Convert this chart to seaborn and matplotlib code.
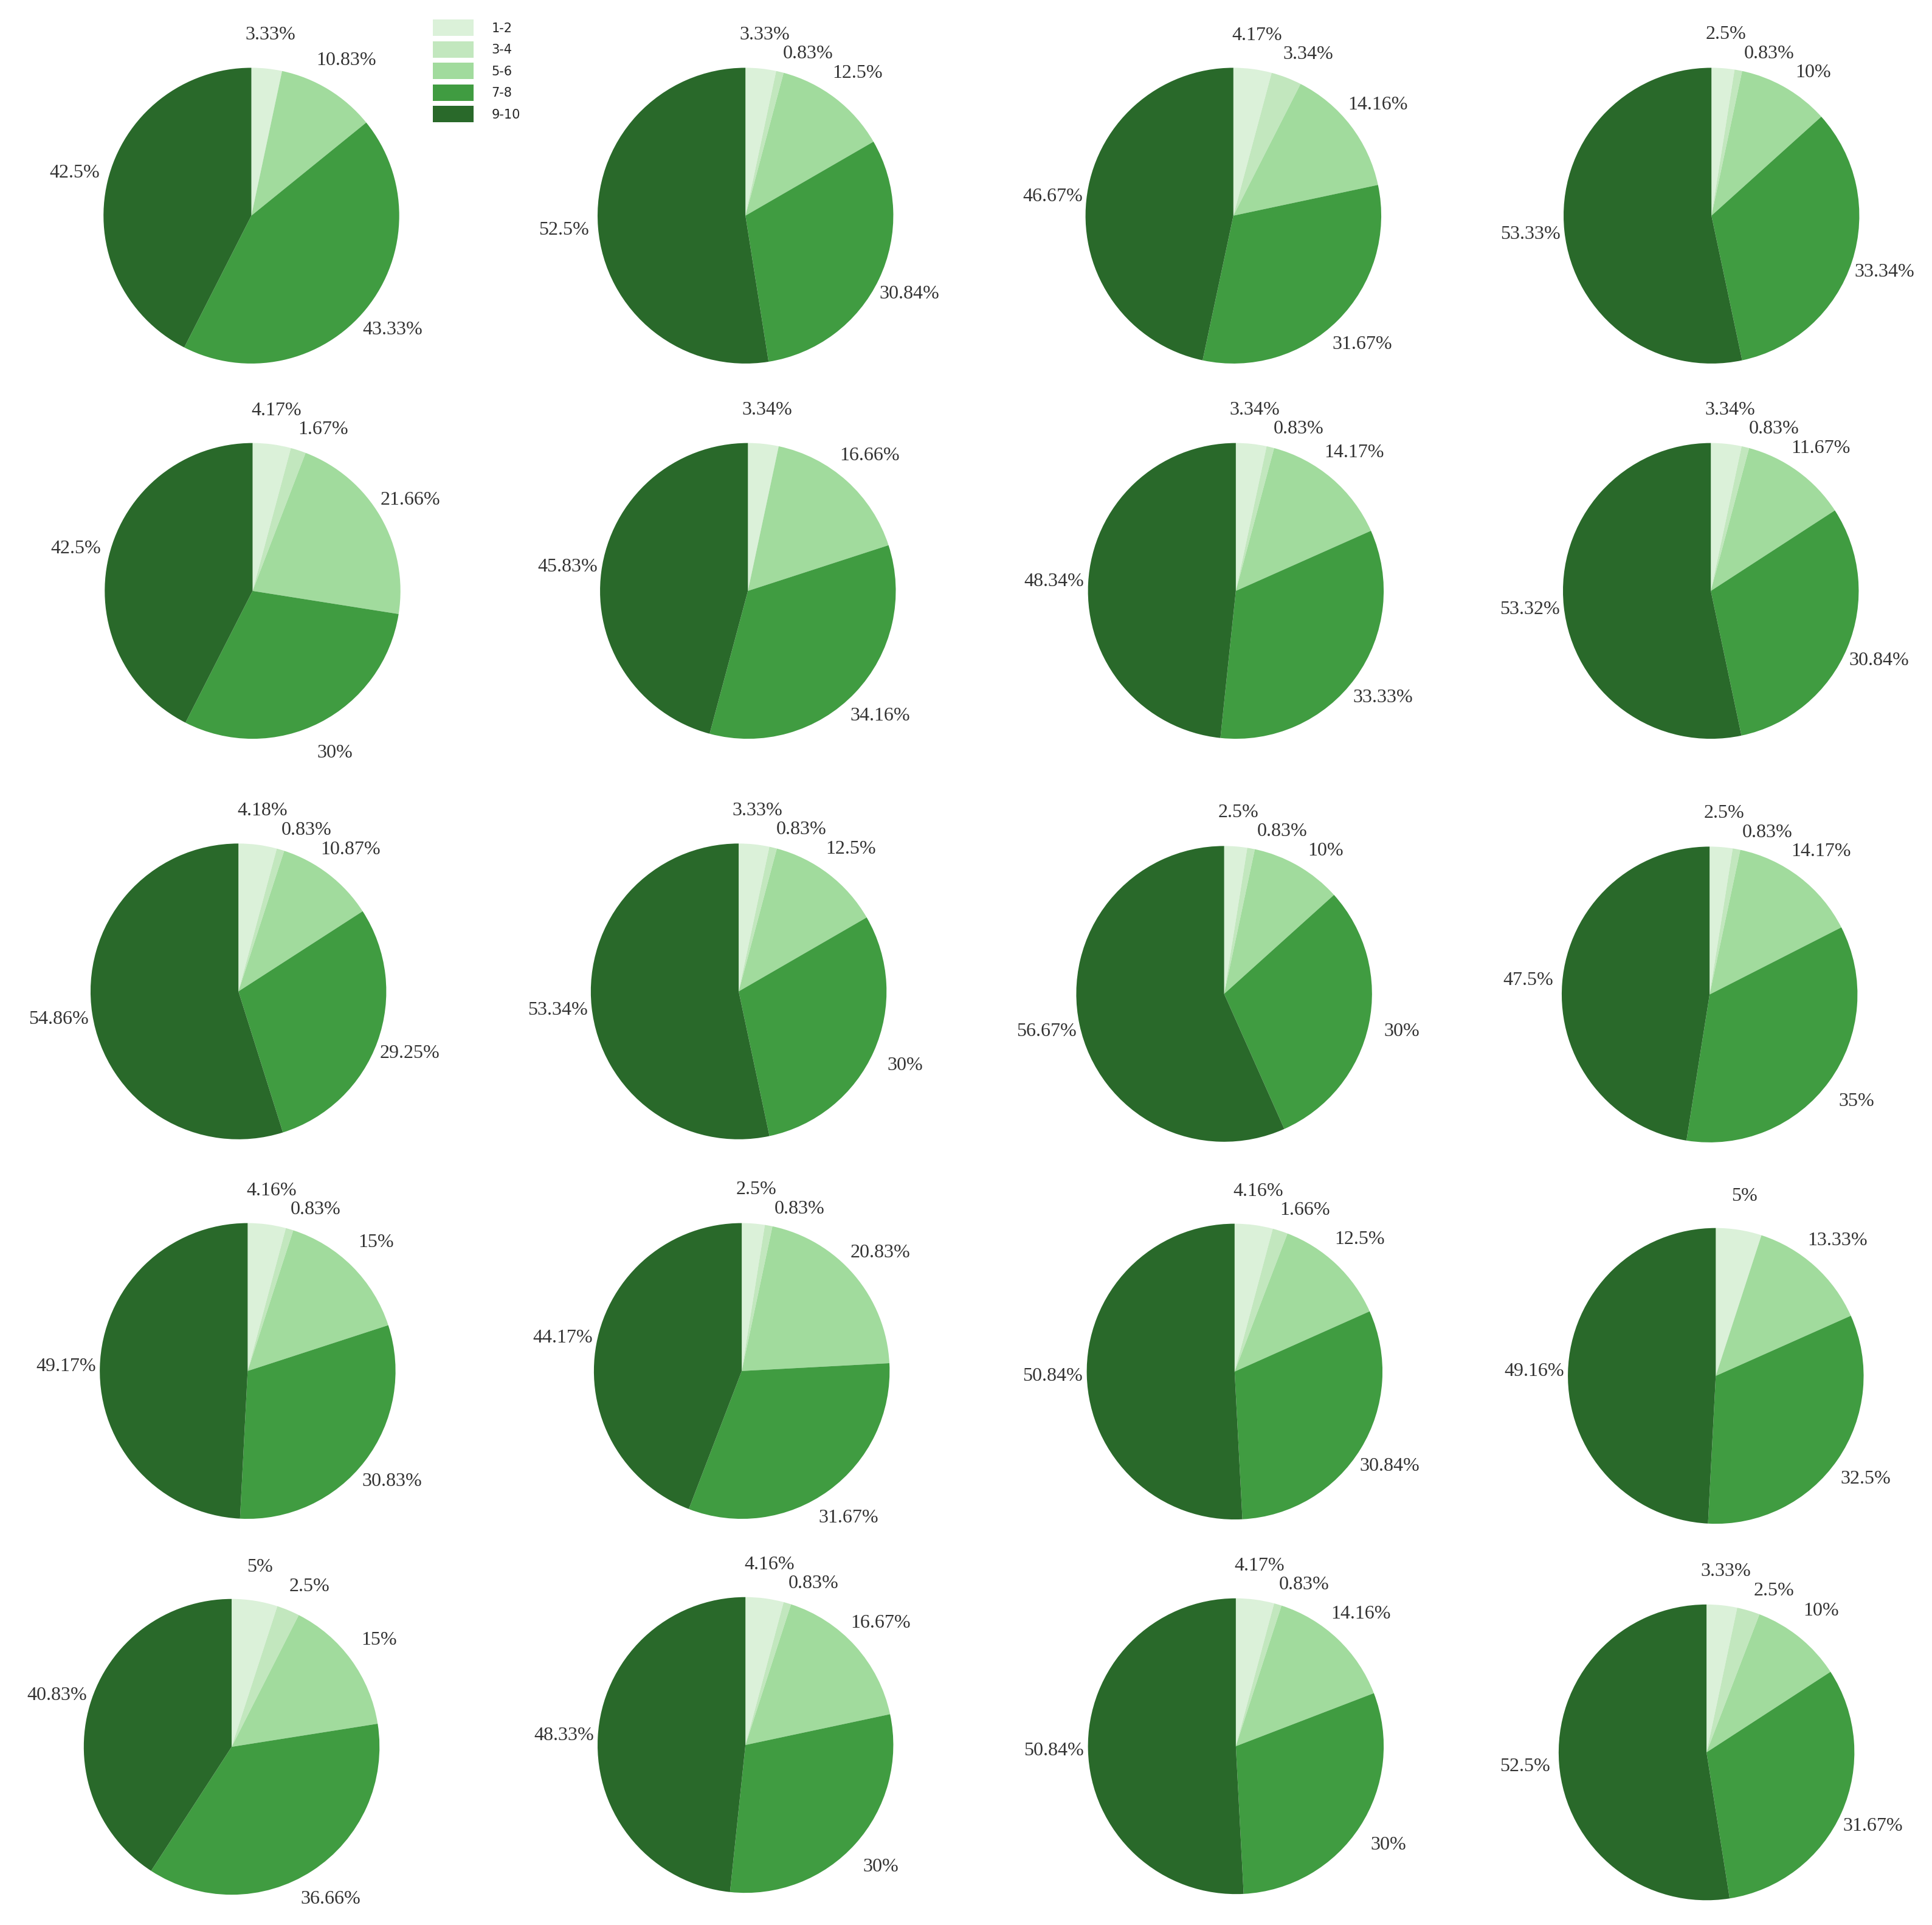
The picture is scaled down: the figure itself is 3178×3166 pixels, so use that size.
import numpy as np
import matplotlib
matplotlib.use("Agg")
import matplotlib.pyplot as plt
import seaborn as sns

# score bands
categories = ['1-2', '3-4', '5-6', '7-8', '9-10']

# one list per pie (percent of answers in each band), row by row
pie_01 = [3.33, 0, 10.83, 43.33, 42.5]
pie_02 = [3.33, 0.83, 12.5, 30.84, 52.5]
pie_03 = [4.17, 3.34, 14.16, 31.67, 46.67]
pie_04 = [2.5, 0.83, 10, 33.34, 53.33]
pie_05 = [4.17, 1.67, 21.66, 30, 42.5]
pie_06 = [3.34, 0, 16.66, 34.16, 45.83]
pie_07 = [3.34, 0.83, 14.17, 33.33, 48.34]
pie_08 = [3.34, 0.83, 11.67, 30.84, 53.32]
pie_09 = [4.18, 0.83, 10.87, 29.25, 54.86]
pie_10 = [3.33, 0.83, 12.5, 30, 53.34]
pie_11 = [2.5, 0.83, 10, 30, 56.67]
pie_12 = [2.5, 0.83, 14.17, 35, 47.5]
pie_13 = [4.16, 0.83, 15, 30.83, 49.17]
pie_14 = [2.5, 0.83, 20.83, 31.67, 44.17]
pie_15 = [4.16, 1.66, 12.5, 30.84, 50.84]
pie_16 = [5, 0, 13.33, 32.5, 49.16]
pie_17 = [5, 2.5, 15, 36.66, 40.83]
pie_18 = [4.16, 0.83, 16.67, 30, 48.33]
pie_19 = [4.17, 0.83, 14.16, 30, 50.84]
pie_20 = [3.33, 2.5, 10, 31.67, 52.5]

all_pies = [pie_01, pie_02, pie_03, pie_04, pie_05, pie_06, pie_07, pie_08,
            pie_09, pie_10, pie_11, pie_12, pie_13, pie_14, pie_15, pie_16,
            pie_17, pie_18, pie_19, pie_20]

# pie centres in pixels of the 3178x3166 canvas (measured on a 1568 wide copy)
centres_small = [(204, 175), (605, 175), (1001, 175), (1389, 175),
                 (205, 479.5), (607, 479.5), (1003, 479.5), (1388.5, 479.5),
                 (193.5, 804.5), (599.5, 804.5), (993.5, 806.5), (1387.5, 807),
                 (201, 1112.5), (602, 1112.5), (1002, 1113), (1392.5, 1116.5),
                 (188, 1417.5), (605, 1416), (1003, 1417), (1385, 1422)]

W, H = 3178, 3166
SCALE = W / 1568
R_PX = 120 * SCALE
LABEL_DIST = 1.23
GAP = 0.13

sns.set_theme(style="white")
plt.rcParams['font.family'] = ['Liberation Serif', 'DejaVu Serif']
colors = sns.color_palette(['#dbf1d9', '#c2e7be', '#a1db9d', '#409c41', '#29692a'])

fig = plt.figure(figsize=(W / 100, H / 100), dpi=100)
fig.patch.set_facecolor('white')


def spread_labels(texts):
    # push crowded labels on the upper right downwards, like the original layout
    items = [t for t in texts if t.get_text() and t.get_position()[0] > 0
             and t.get_position()[1] > 0]
    items.sort(key=lambda t: -t.get_position()[1])
    prev_y = None
    for t in items:
        x, y = t.get_position()
        if prev_y is not None and prev_y - y < GAP:
            y_new = prev_y - GAP
            x_circ = np.sqrt(max(LABEL_DIST ** 2 - y_new ** 2, 0))
            t.set_position(((x + x_circ) / 2, y_new))
            y = y_new
        prev_y = y


wedges = None
for vals, (cx, cy) in zip(all_pies, centres_small):
    cxp, cyp = cx * SCALE, cy * SCALE
    ax = fig.add_axes([(cxp - R_PX) / W, 1 - (cyp + R_PX) / H,
                       2 * R_PX / W, 2 * R_PX / H])
    labels = [f"{v:g}%" if v > 0 else '' for v in vals]
    wedges, texts = ax.pie(vals, labels=labels, colors=colors, startangle=90,
                           counterclock=False, labeldistance=LABEL_DIST,
                           wedgeprops=dict(linewidth=0),
                           textprops=dict(color='#333333', fontsize=23,
                                          ha='center', va='center'))
    spread_labels(texts)
    ax.set_xlim(-1, 1)
    ax.set_ylim(-1, 1)
    ax.set_aspect('equal')
    ax.axis('off')

fig.legend(wedges, categories, loc='upper left',
           bbox_to_anchor=(702 / W, 1 - 22 / H), frameon=False,
           handlelength=3.2, handleheight=1.6,
           labelspacing=0.42, handletextpad=1.4, borderpad=0,
           prop=dict(family='DejaVu Sans', size=15))

fig.savefig('out.png', dpi=100, facecolor='white')
